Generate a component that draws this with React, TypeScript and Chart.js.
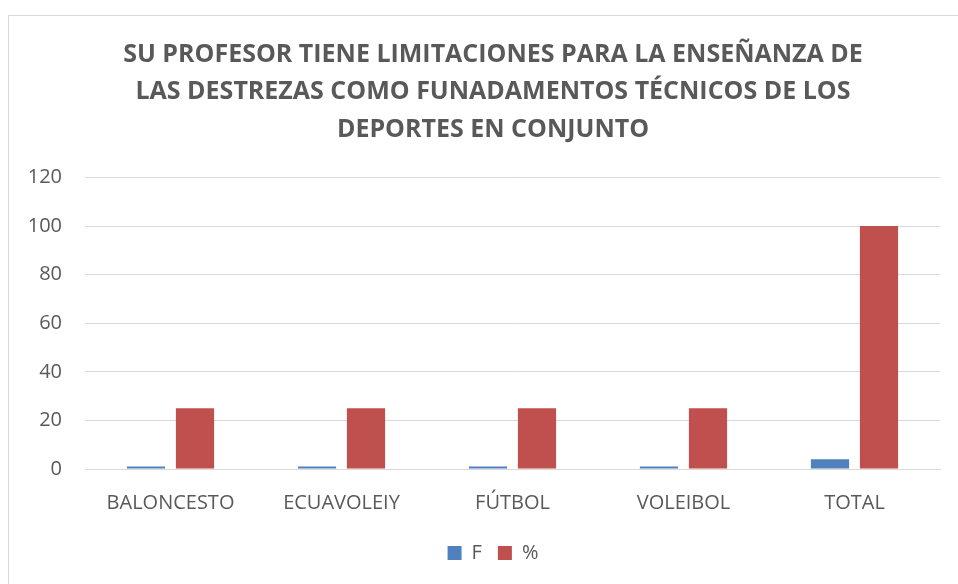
import React, { useEffect, useRef } from "react";
import { Chart, registerables } from "chart.js";

Chart.register(...registerables);

const categories = ["BALONCESTO", "ECUAVOLEIY", "FÚTBOL", "VOLEIBOL", "TOTAL"];
const seriesF = [1, 1, 1, 1, 4];
const seriesPct = [25, 25, 25, 25, 100];
const titleLines = [
  "SU PROFESOR TIENE LIMITACIONES PARA LA ENSEÑANZA DE",
  "LAS DESTREZAS COMO FUNADAMENTOS TÉCNICOS DE LOS",
  "DEPORTES EN CONJUNTO",
];

export default function App() {
  const ref = useRef<HTMLCanvasElement | null>(null);

  useEffect(() => {
    document.body.style.overflow = "hidden";
    const ctx = ref.current!;
    const font = "'Open Sans', sans-serif";
    const chart = new Chart(ctx, {
      type: "bar",
      data: {
        labels: categories,
        datasets: [
          { label: "F", data: seriesF, backgroundColor: "#4F81BD", categoryPercentage: 0.573, barPercentage: 0.78 },
          { label: "%", data: seriesPct, backgroundColor: "#C0504D", categoryPercentage: 0.573, barPercentage: 0.78 },
        ],
      },
      options: {
        animation: false,
        responsive: false,
        maintainAspectRatio: false,
        layout: { padding: { left: 0, right: 0, top: 0, bottom: 11 } },
        plugins: {
          title: {
            display: true,
            text: titleLines,
            color: "#595959",
            font: { family: font, size: 25, weight: "bold", lineHeight: 1.5 },
            padding: { top: 20, bottom: 29 },
          },
          legend: {
            position: "bottom",
            labels: {
              color: "#595959",
              font: { family: font, size: 20 },
              boxWidth: 14,
              boxHeight: 14,
              padding: 16,
            },
          },
          tooltip: { enabled: false },
        },
        scales: {
          x: {
            grid: { display: false, drawTicks: false },
            border: { color: "#d9d9d9", width: 1 },
            ticks: { color: "#595959", font: { family: font, size: 20 }, padding: 22, maxRotation: 0 },
            afterFit: (s: any) => { s.height = 58; },
          },
          y: {
            min: 0,
            max: 120,
            ticks: { stepSize: 20, color: "#595959", font: { family: font, size: 20 }, padding: 23 },
            grid: { color: "#d9d9d9", drawTicks: false },
            border: { display: false },
            afterFit: (s: any) => { s.width = 76; },
          },
          yPad: {
            position: "right",
            display: true,
            ticks: { display: false },
            grid: { display: false, drawTicks: false },
            border: { display: false },
            afterFit: (s: any) => { s.width = 37; },
          },
        },
      },
    });
    return () => chart.destroy();
  }, []);

  return (
    <div
      style={{
        position: "absolute",
        left: 8,
        top: 15,
        width: 980,
        height: 580,
        border: "1px solid #d9d9d9",
        background: "#fff",
      }}
    >
      <canvas ref={ref} width={968} height={568} style={{ display: "block" }} />
    </div>
  );
}
